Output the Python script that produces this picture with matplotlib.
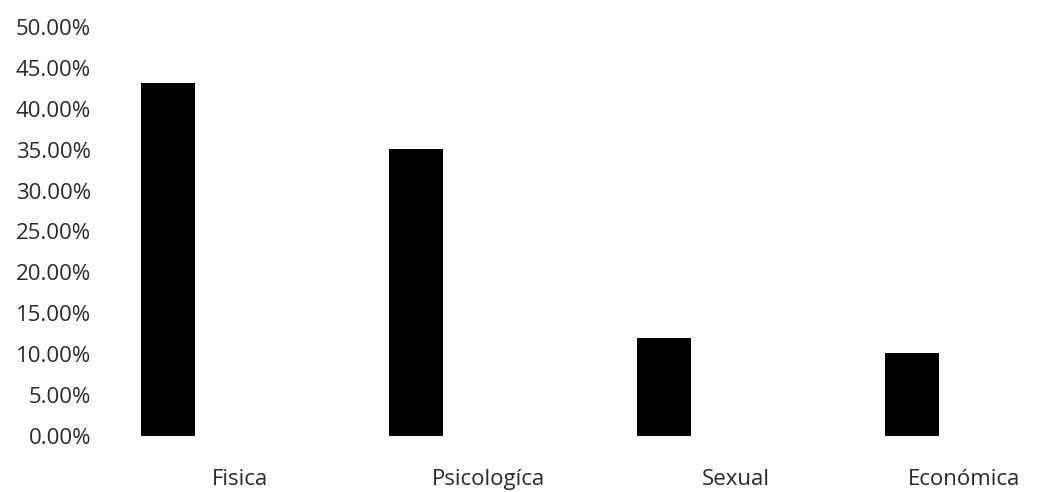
import matplotlib.pyplot as plt
import matplotlib.transforms as mtransforms
from matplotlib.ticker import FuncFormatter, MultipleLocator
import numpy as np

# ---------------- DATA ----------------
categories = ["Fisica", "Psicologíca", "Sexual", "Económica"]
values = [0.432, 0.351, 0.120, 0.102]

plt.rcParams['font.family'] = ['Open Sans', 'DejaVu Sans']

W, H = 1046, 492
fig = plt.figure(figsize=(W / 100, H / 100), dpi=100)
# axes box in pixels: left 116, right 1046, y=0 at 436, y=0.5 at 27
ax = fig.add_axes([116 / W, 1 - 436 / H, (W - 116) / W, (436 - 27) / H])

x = np.arange(len(categories))
offset = 0.29  # bars sit left of the category centre
ax.bar(x - offset, values, width=0.22, color="black")

ax.set_ylim(0, 0.5)
ax.set_xlim(-0.5, 3.25)
ax.yaxis.set_major_locator(MultipleLocator(0.05))
ax.yaxis.set_major_formatter(FuncFormatter(lambda v, p: f"{v * 100:.2f}%"))
ax.set_xticks(x)
ax.set_xticklabels(categories)

for s in ax.spines.values():
    s.set_visible(False)
ax.tick_params(axis='both', length=0, labelsize=16, labelcolor="#2a2a2a")
ax.tick_params(axis='y', pad=18)
ax.tick_params(axis='x', pad=24)

# last label is pulled in to stay inside the picture
lbl = ax.get_xticklabels()[-1]
lbl.set_transform(lbl.get_transform() + mtransforms.ScaledTranslation(-20 / 100, 0, fig.dpi_scale_trans))

fig.savefig("out.png", dpi=100, facecolor="white")
